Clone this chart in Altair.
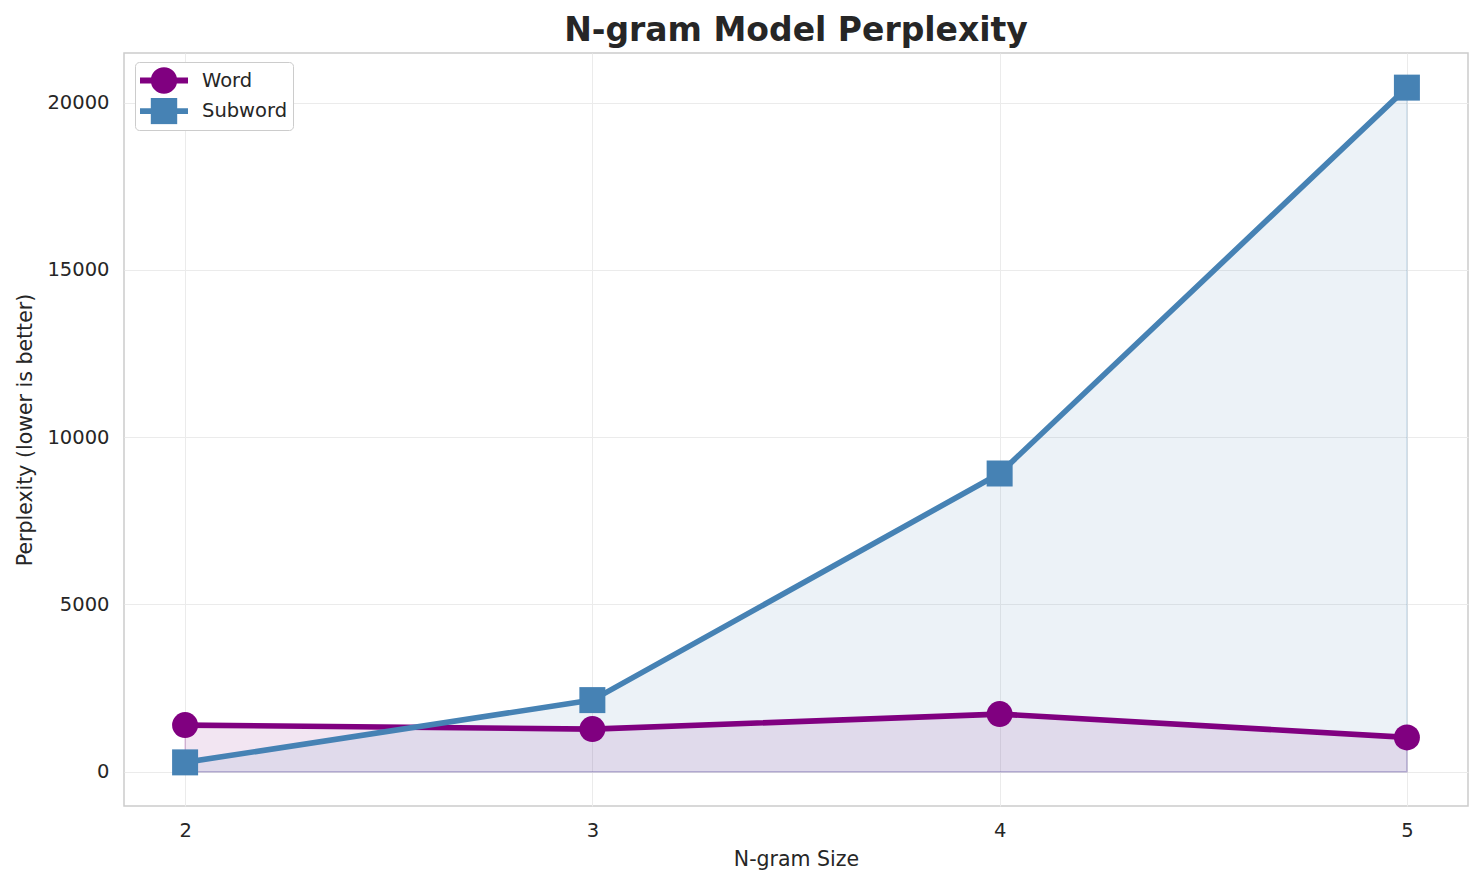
import altair as alt
import pandas as pd

# ---- data ----
ngram_sizes = [2, 3, 4, 5]
word_perplexity = [1395, 1276, 1724, 1028]
subword_perplexity = [281, 2142, 8915, 20448]
series_names = ["Word", "Subword"]
series_colors = ["#800080", "#4682b4"]
y_ticks = [0, 5000, 10000, 15000, 20000]

df = pd.DataFrame({
    "n": ngram_sizes * 2,
    "value": word_perplexity + subword_perplexity,
    "series": [series_names[0]] * len(ngram_sizes) + [series_names[1]] * len(ngram_sizes),
})

FONT = "DejaVu Sans"
TXT = "#262626"

x_enc = alt.X(
    "n:Q",
    scale=alt.Scale(domain=[1.85, 5.15], nice=False, zero=False),
    axis=alt.Axis(values=ngram_sizes, format="d", title="N-gram Size",
                  labelPadding=15.5, titlePadding=9),
)
y_enc = alt.Y(
    "value:Q",
    scale=alt.Scale(domain=[-1023, 21483], nice=False, zero=False),
    axis=alt.Axis(values=y_ticks, format="d", title="Perplexity (lower is better)",
                  labelPadding=15, titlePadding=11),
)

# legend glyphs: a line segment with the marker on top of it
word_path = ("M-1,-0.12L1,-0.12L1,0.12L-1,0.12Z"
             "M0.55,0A0.55,0.55,0,1,1,-0.55,0A0.55,0.55,0,1,1,0.55,0Z")
sub_path = ("M-1,-0.12L1,-0.12L1,0.12L-1,0.12Z"
            "M-0.55,-0.55L0.55,-0.55L0.55,0.55L-0.55,0.55Z")

legend = alt.Legend(
    title=None,
    orient="none",
    legendX=11,
    legendY=9,
    labelFont=FONT,
    labelFontSize=19.5,
    labelColor=TXT,
    padding=5,
    rowPadding=3.6,
    clipHeight=27,
    labelOffset=14,
    strokeColor="#cccccc",
    fillColor="white",
    cornerRadius=4,
    symbolSize=2304,
    symbolStrokeWidth=0,
    symbolOpacity=1,
    labelExpr="datum.label + '\u00a0\u00a0'",
)

base = alt.Chart(df)

layers = []
# filled areas
for name, col in zip(series_names, series_colors):
    layers.append(
        base.transform_filter(alt.datum.series == name)
        .mark_area(color=col, fillOpacity=0.1, stroke=col, strokeOpacity=0.22, strokeWidth=1.4)
        .encode(x=x_enc, y=y_enc, y2=alt.datum(0))
    )
# lines
for name, col in zip(series_names, series_colors):
    layers.append(
        base.transform_filter(alt.datum.series == name)
        .mark_line(strokeWidth=5.6, strokeJoin="round", color=col)
        .encode(x=x_enc, y=y_enc)
    )
# markers
for name, col, shp in zip(series_names, series_colors, ["circle", "square"]):
    layers.append(
        base.transform_filter(alt.datum.series == name)
        .mark_point(filled=True, size=676, shape=shp, color=col, opacity=1, strokeWidth=0)
        .encode(x=x_enc, y=y_enc)
    )
# invisible layer that only carries the legend
layers.append(
    base.mark_point(filled=True, opacity=0, strokeWidth=0).encode(
        x=x_enc,
        y=y_enc,
        color=alt.Color("series:N", scale=alt.Scale(domain=series_names, range=series_colors), legend=legend),
        shape=alt.Shape("series:N", scale=alt.Scale(domain=series_names, range=[word_path, sub_path]), legend=legend),
    )
)

chart = (
    alt.layer(*layers)
    .properties(
        width=1344,
        height=753,
        title=alt.Title("N-gram Model Perplexity", anchor="middle", frame="group",
                        fontSize=33, font=FONT, fontWeight="bold", color=TXT, offset=5),
        autosize=alt.AutoSizeParams(type="none"),
        padding={"left": 116, "top": 45, "right": 8, "bottom": 74},
    )
    .configure_view(stroke="#cccccc", strokeWidth=1.5)
    .configure_axis(
        grid=True,
        gridColor="#ebebeb",
        gridWidth=1,
        domain=False,
        ticks=False,
        tickSize=0,
        labelFont=FONT,
        labelFontSize=19.5,
        labelColor=TXT,
        titleFont=FONT,
        titleFontSize=20.5,
        titleFontWeight="normal",
        titleColor=TXT,
    )
)

chart.save("out.html", embed_options={"renderer": "svg", "actions": False})
